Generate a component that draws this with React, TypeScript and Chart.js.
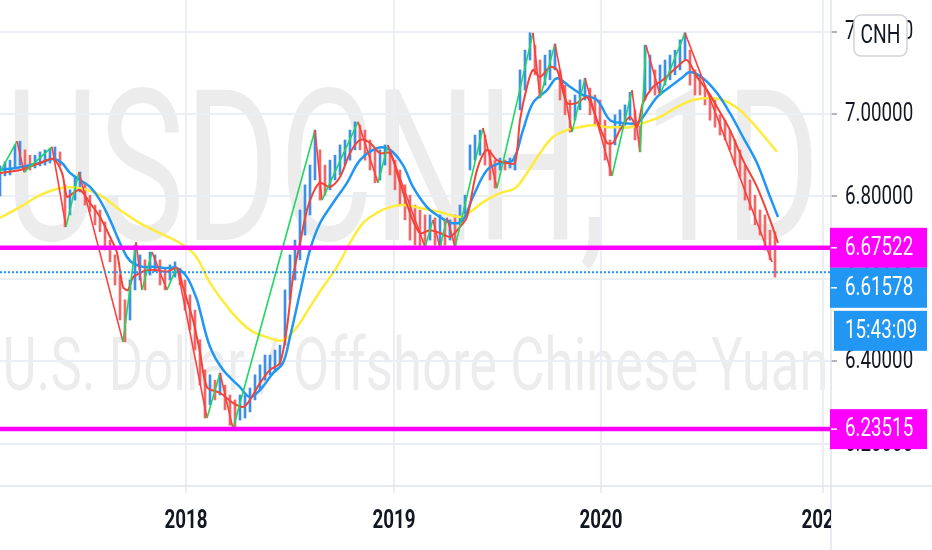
import React, { useEffect, useRef } from "react";
import { Chart, registerables } from "chart.js";

Chart.register(...registerables);

// ---------- data (x = weeks from the left edge of the view) ----------
const candleStepWeeks = 1.25;
const candleHigh = [
  6.874, 6.884, 6.888, 6.925, 6.934, 6.913, 6.9, 6.9, 6.908, 6.913,
  6.917, 6.92, 6.908, 6.828, 6.816, 6.845, 6.859, 6.833, 6.803, 6.779,
  6.767, 6.738, 6.694, 6.658, 6.609, 6.549, 6.597, 6.682, 6.658, 6.646,
  6.665, 6.658, 6.646, 6.626, 6.634, 6.641, 6.626, 6.597, 6.561, 6.524,
  6.452, 6.379, 6.367, 6.354, 6.371, 6.342, 6.318, 6.306, 6.318, 6.318,
  6.335, 6.367, 6.391, 6.415, 6.415, 6.427, 6.439, 6.573, 6.658, 6.694,
  6.767, 6.828, 6.876, 6.961, 6.913, 6.876, 6.888, 6.9, 6.925, 6.937,
  6.961, 6.981, 6.973, 6.961, 6.937, 6.913, 6.913, 6.925, 6.913, 6.888,
  6.864, 6.828, 6.803, 6.779, 6.767, 6.755, 6.755, 6.748, 6.755, 6.743,
  6.743, 6.755, 6.779, 6.803, 6.925, 6.949, 6.961, 6.949, 6.913, 6.888,
  6.893, 6.888, 6.893, 6.9, 7.107, 7.155, 7.197, 7.167, 7.131, 7.143,
  7.155, 7.17, 7.107, 7.07, 7.034, 7.046, 7.083, 7.087, 7.063, 7.046,
  7.034, 6.985, 6.937, 6.998, 7.01, 7.022, 7.053, 7.01, 6.973, 7.167,
  7.143, 7.107, 7.119, 7.131, 7.143, 7.155, 7.18, 7.197, 7.155, 7.107,
  7.095, 7.07, 7.046, 7.034, 6.998, 6.985, 6.961, 6.937, 6.913, 6.876,
  6.84, 6.803, 6.767, 6.755, 6.718, 6.714,
];
const candleLow = [
  6.801, 6.85, 6.852, 6.869, 6.876, 6.859, 6.864, 6.869, 6.874, 6.876,
  6.881, 6.884, 6.874, 6.726, 6.755, 6.791, 6.811, 6.779, 6.762, 6.731,
  6.714, 6.67, 6.641, 6.585, 6.5, 6.447, 6.5, 6.573, 6.597, 6.573,
  6.609, 6.617, 6.585, 6.573, 6.597, 6.604, 6.585, 6.524, 6.476, 6.427,
  6.342, 6.262, 6.294, 6.306, 6.318, 6.282, 6.245, 6.238, 6.257, 6.262,
  6.277, 6.306, 6.33, 6.354, 6.367, 6.374, 6.391, 6.439, 6.549, 6.597,
  6.646, 6.706, 6.755, 6.84, 6.791, 6.803, 6.816, 6.84, 6.852, 6.876,
  6.888, 6.913, 6.913, 6.888, 6.864, 6.833, 6.84, 6.876, 6.852, 6.816,
  6.779, 6.743, 6.694, 6.682, 6.677, 6.677, 6.694, 6.682, 6.677, 6.682,
  6.694, 6.677, 6.731, 6.755, 6.864, 6.888, 6.9, 6.876, 6.84, 6.82,
  6.864, 6.864, 6.869, 6.864, 7.01, 7.058, 7.131, 7.095, 7.039, 7.07,
  7.083, 7.107, 7.034, 6.998, 6.956, 6.985, 7.01, 7.034, 6.998, 6.973,
  6.961, 6.888, 6.85, 6.925, 6.961, 6.973, 6.985, 6.937, 6.908, 7.034,
  7.058, 7.046, 7.046, 7.07, 7.083, 7.095, 7.107, 7.131, 7.07, 7.046,
  7.046, 7.022, 6.985, 6.968, 6.949, 6.937, 6.913, 6.876, 6.847, 6.791,
  6.767, 6.731, 6.706, 6.67, 6.646, 6.604,
];

const emaFast: [number, number][] = [
  [0, 6.857], [5, 6.864], [10, 6.881], [13.25, 6.891], [15.5, 6.857], [16.75, 6.799],
  [18.25, 6.808], [20, 6.816], [22.5, 6.784], [25, 6.75], [27.5, 6.702], [29.25, 6.663],
  [30.75, 6.58], [32, 6.573], [33.25, 6.604], [35, 6.614], [36.75, 6.621], [39.25, 6.621],
  [41.75, 6.617], [44.25, 6.626], [45.75, 6.58], [48.25, 6.5], [50, 6.422], [51.75, 6.337],
  [55, 6.323], [58.25, 6.299], [60.75, 6.289], [62.5, 6.306], [65, 6.347], [67.5, 6.379],
  [70, 6.396], [71.75, 6.483], [73.25, 6.604], [75, 6.687], [76.75, 6.767], [78.25, 6.808],
  [80, 6.833], [82.5, 6.823], [85, 6.847], [87.5, 6.905], [90, 6.937], [92.5, 6.93],
  [95, 6.905], [97.5, 6.905], [100, 6.833], [102.5, 6.76], [105, 6.711], [107.5, 6.718],
  [110, 6.711], [112.5, 6.702], [115, 6.726], [116.75, 6.75], [119.25, 6.864], [121.75, 6.913],
  [124.25, 6.888], [126.75, 6.881], [128.75, 6.881], [130, 6.985], [131.75, 7.066], [133.25, 7.107],
  [135, 7.09], [137.5, 7.114], [139.25, 7.107], [141.75, 7.027], [144.25, 7.027], [146.75, 7.041],
  [149.25, 6.985], [151.75, 6.93], [153.25, 6.93], [155, 6.961], [157.5, 6.993], [159.25, 6.968],
  [160.75, 7.027], [163.25, 7.066], [165.75, 7.083], [169.25, 7.114], [171.75, 7.131], [174.25, 7.09],
  [176.75, 7.058], [179.25, 7.017], [182.5, 6.961], [185.75, 6.888], [189.25, 6.823], [192.5, 6.743],
  [194.5, 6.687],
];

const emaSlow: [number, number][] = [
  [0, 6.864], [5, 6.871], [10, 6.881], [13.25, 6.891], [15.5, 6.881], [17.5, 6.857],
  [20, 6.84], [22.5, 6.823], [25, 6.791], [27.5, 6.743], [30, 6.687], [31.75, 6.653],
  [33.25, 6.638], [35.75, 6.629], [38.25, 6.629], [41.75, 6.626], [44.25, 6.626], [46.75, 6.604],
  [49.25, 6.549], [50, 6.522], [52.5, 6.435], [55.75, 6.379], [60, 6.337], [62.5, 6.313],
  [65, 6.33], [68.25, 6.371], [70.75, 6.396], [72.5, 6.459], [75, 6.566], [77.5, 6.67],
  [80, 6.735], [83.25, 6.784], [86.75, 6.833], [90, 6.888], [94.25, 6.917], [97.5, 6.913],
  [100.75, 6.876], [103.25, 6.823], [106.75, 6.774], [110, 6.75], [113.25, 6.735], [115.75, 6.743],
  [118.25, 6.799], [121.75, 6.864], [125, 6.881], [128.25, 6.888], [130.75, 6.961], [133.25, 7.027],
  [136.75, 7.058], [139.25, 7.087], [142.5, 7.066], [145.75, 7.046], [149.25, 7.034], [152.5, 6.985],
  [155.75, 6.978], [159.25, 6.978], [160.75, 6.993], [164.25, 7.041], [167.5, 7.066], [170.75, 7.09],
  [172.5, 7.102], [175.75, 7.087], [179.25, 7.051], [182.5, 7.002], [185.75, 6.944], [189.25, 6.881],
  [192.5, 6.799], [194.5, 6.75],
];

const maLong: [number, number][] = [
  [0, 6.748], [5, 6.774], [10, 6.803], [15, 6.82], [20, 6.82], [25, 6.803], [30, 6.767],
  [35, 6.735], [40, 6.711], [45, 6.687], [48.25, 6.663], [50, 6.638], [52.5, 6.59],
  [57.5, 6.524], [62.5, 6.476], [67.5, 6.456], [70.75, 6.451], [74.25, 6.483], [77.5, 6.532],
  [80.75, 6.58], [84.25, 6.629], [87.5, 6.687], [90.75, 6.735], [94.25, 6.76], [97.5, 6.774],
  [100.75, 6.779], [105, 6.772], [110, 6.762], [115, 6.75], [117.5, 6.762], [120.75, 6.786],
  [125, 6.808], [128.75, 6.82], [131.75, 6.857], [135, 6.905], [138.25, 6.944], [141.75, 6.961],
  [145, 6.968], [148.25, 6.973], [151.75, 6.968], [155, 6.968], [157.5, 6.968], [160.75, 6.978],
  [165, 6.993], [169.25, 7.017], [173.25, 7.034], [177.5, 7.039], [180.75, 7.034], [184.25, 7.015],
  [187.5, 6.985], [190.75, 6.949], [194.25, 6.908],
];

const zigzag: [number, number][] = [
  [0, 6.859], [4.25, 6.934], [6, 6.859], [13, 6.92], [16.5, 6.726], [19.75, 6.859],
  [30.75, 6.447], [34, 6.689], [35.5, 6.573], [38, 6.665], [41.75, 6.573], [44.25, 6.629],
  [51.75, 6.262], [55, 6.371], [58.25, 6.236], [78.75, 6.961], [80.5, 6.791], [89.5, 6.981],
  [94.5, 6.833], [97, 6.925], [106.25, 6.677], [108.25, 6.743], [110, 6.675], [111.75, 6.748],
  [113.75, 6.677], [120.75, 6.966], [124.25, 6.82], [133.25, 7.197], [135, 7.039], [138.75, 7.17],
  [143, 6.956], [146.25, 7.087], [153, 6.85], [158, 7.058], [160, 6.908], [161.5, 7.167],
  [165, 7.046], [171.25, 7.197], [193, 6.641],
];

const yearTickWeeks = [46.5, 98.5, 150.25, 205.75];
const yearLabels = ["2018", "2019", "2020", "2021"];
const priceTicks = [6.2, 6.4, 6.6, 6.8, 7.0, 7.2];
const levelHigh = 6.67522;
const levelLow = 6.23515;
const lastPrice = 6.61578;
const countdownText = "15:43:09";
const symbolTitle = "USDCNH, 1D";
const symbolDesc = "U.S. Dollar / Offshore Chinese Yuan";
const currencyTag = "CNH";

// view range
const X_MIN = 0;
const X_MAX = 207.75;
const Y_MIN = 6.0971;
const Y_MAX = 7.2767;

// ---------- styles ----------
const GRID = "#eceef5";
const AXIS_LINE = "#e0e3eb";
const TEXT = "#131722";
const MAGENTA = "#ff00ff";
const BLUE = "#2196f3";
const CANDLE_UP = "#3f8fe6";
const CANDLE_DOWN = "#ee6a6a";
const FONT = "Roboto, 'Noto Sans', sans-serif";
const SQ = 0.75; // horizontal squeeze of text

function squeezed(ctx: CanvasRenderingContext2D, text: string, x: number, y: number, align: CanvasTextAlign, sx = SQ) {
  ctx.save();
  ctx.translate(x, y);
  ctx.scale(sx, 1);
  ctx.textAlign = align;
  ctx.fillText(text, 0, 0);
  ctx.restore();
}

function roundRect(ctx: CanvasRenderingContext2D, x: number, y: number, w: number, h: number, r: number) {
  ctx.beginPath();
  ctx.moveTo(x + r, y);
  ctx.lineTo(x + w - r, y);
  ctx.arcTo(x + w, y, x + w, y + r, r);
  ctx.lineTo(x + w, y + h - r);
  ctx.arcTo(x + w, y + h, x + w - r, y + h, r);
  ctx.lineTo(x + r, y + h);
  ctx.arcTo(x, y + h, x, y + h - r, r);
  ctx.lineTo(x, y + r);
  ctx.arcTo(x, y, x + r, y, r);
  ctx.closePath();
}

const overlayPlugin = {
  id: "tvOverlay",
  beforeDraw(chart: any) {
    const { ctx, chartArea } = chart;
    const cx = (chartArea.left + chartArea.right) / 2;
    ctx.save();
    ctx.fillStyle = "rgba(0,0,0,0.075)";
    ctx.textBaseline = "alphabetic";
    ctx.textAlign = "center";
    ctx.font = `211px ${FONT}`;
    ctx.fillText(symbolTitle, cx - 3, chartArea.top + 240, 815);
    ctx.font = `75px ${FONT}`;
    ctx.fillText(symbolDesc, cx, chartArea.top + 390, 826);
    ctx.restore();
  },
  afterDatasetsDraw(chart: any) {
    const { ctx, chartArea } = chart;
    const y = chart.scales.y;
    ctx.save();
    ctx.beginPath();
    ctx.rect(chartArea.left, chartArea.top, chartArea.right - chartArea.left, chartArea.bottom - chartArea.top);
    ctx.clip();
    // last price dotted line
    const yp = y.getPixelForValue(lastPrice);
    ctx.strokeStyle = BLUE;
    ctx.lineWidth = 2;
    ctx.setLineDash([2, 2]);
    ctx.beginPath();
    ctx.moveTo(chartArea.left, yp);
    ctx.lineTo(chartArea.right, yp);
    ctx.stroke();
    ctx.setLineDash([]);
    // horizontal levels
    ctx.strokeStyle = MAGENTA;
    ctx.lineWidth = 4.5;
    for (const lv of [levelHigh, levelLow]) {
      const py = y.getPixelForValue(lv);
      ctx.beginPath();
      ctx.moveTo(chartArea.left, py);
      ctx.lineTo(chartArea.right, py);
      ctx.stroke();
    }
    ctx.restore();
  },
  afterDraw(chart: any) {
    const { ctx, chartArea, width, height } = chart;
    const xs = chart.scales.x;
    const ys = chart.scales.y;
    ctx.save();
    // axis border lines
    ctx.strokeStyle = AXIS_LINE;
    ctx.lineWidth = 1.5;
    ctx.beginPath();
    ctx.moveTo(0, chartArea.bottom);
    ctx.lineTo(width, chartArea.bottom);
    ctx.moveTo(chartArea.right, 0);
    ctx.lineTo(chartArea.right, height);
    ctx.stroke();

    // price axis labels
    ctx.fillStyle = TEXT;
    ctx.textBaseline = "middle";
    ctx.font = `25px ${FONT}`;
    const labelX = chartArea.right + 14;
    for (const v of priceTicks) {
      squeezed(ctx, v.toFixed(5), labelX, ys.getPixelForValue(v) + 1, "left");
    }

    // time axis labels (clipped at the price axis)
    ctx.save();
    ctx.beginPath();
    ctx.rect(0, chartArea.bottom, chartArea.right, height - chartArea.bottom);
    ctx.clip();
    ctx.font = `bold 25px ${FONT}`;
    ctx.fillStyle = TEXT;
    yearTickWeeks.forEach((w, i) => {
      squeezed(ctx, yearLabels[i], xs.getPixelForValue(w), chartArea.bottom + 36, "center");
    });
    ctx.restore();

    // label boxes on the price axis
    const boxL = chartArea.right - 1;
    const boxR = width - 5;
    const boxH = 40;
    const drawBox = (top: number, color: string, text: string, left = boxL, dash = true) => {
      ctx.fillStyle = color;
      ctx.fillRect(left, top, boxR - left, boxH);
      const cy = top + boxH / 2;
      if (dash) {
        ctx.strokeStyle = "#ffffff";
        ctx.lineWidth = 1.5;
        ctx.beginPath();
        ctx.moveTo(chartArea.right, cy);
        ctx.lineTo(chartArea.right + 6, cy);
        ctx.stroke();
      }
      ctx.fillStyle = "#ffffff";
      ctx.font = `25px ${FONT}`;
      ctx.textBaseline = "middle";
      squeezed(ctx, text, chartArea.right + 14, cy + 1, "left");
      return top + boxH;
    };
    const hiTop = ys.getPixelForValue(levelHigh) - boxH / 2;
    const hiBottom = drawBox(hiTop, MAGENTA, levelHigh.toFixed(5));
    const lastTop = Math.max(ys.getPixelForValue(lastPrice) - boxH / 2, hiBottom);
    const lastBottom = drawBox(lastTop, BLUE, lastPrice.toFixed(5));
    drawBox(lastBottom + 3, BLUE, countdownText, chartArea.right + 3, false);
    drawBox(ys.getPixelForValue(levelLow) - boxH / 2, MAGENTA, levelLow.toFixed(5));

    // currency tag
    const tagL = chartArea.right + 23;
    const tagT = 15;
    const tagW = 53;
    const tagH = 41;
    roundRect(ctx, tagL, tagT, tagW, tagH, 7);
    ctx.fillStyle = "#ffffff";
    ctx.fill();
    ctx.strokeStyle = "#d1d4dc";
    ctx.lineWidth = 1.5;
    ctx.stroke();
    ctx.fillStyle = TEXT;
    ctx.font = `25px ${FONT}`;
    ctx.textBaseline = "middle";
    squeezed(ctx, currencyTag, tagL + tagW / 2, tagT + tagH / 2 + 1, "center", 0.77);
    ctx.restore();
  },
};

export default function App() {
  const ref = useRef<HTMLCanvasElement | null>(null);

  useEffect(() => {
    document.body.style.margin = "0";
    const mids = candleHigh.map((h, i) => (h + candleLow[i]) / 2);
    const candleColors = mids.map((m, i) => (i === 0 || m >= mids[i - 1] ? CANDLE_UP : CANDLE_DOWN));
    const toPts = (arr: [number, number][]) => arr.map(([x, y]) => ({ x, y }));

    const chart = new Chart(ref.current as HTMLCanvasElement, {
      type: "line",
      data: {
        datasets: [
          {
            type: "line",
            label: "ZigZag",
            data: toPts(zigzag),
            borderColor: "#1fd65f",
            borderWidth: 1.6,
            pointRadius: 0,
            tension: 0,
            order: 1,
            segment: {
              borderColor: (c: any) => (c.p1.parsed.y >= c.p0.parsed.y ? "#1fd65f" : "#ff3d3d"),
            },
          } as any,
          {
            type: "line",
            label: "EMA fast",
            data: toPts(emaFast),
            borderColor: "#f44336",
            borderWidth: 2,
            pointRadius: 0,
            tension: 0.3,
            order: 2,
          },
          {
            type: "line",
            label: "EMA slow",
            data: toPts(emaSlow),
            borderColor: "#2196f3",
            borderWidth: 2.5,
            pointRadius: 0,
            tension: 0.35,
            order: 3,
          },
          {
            type: "line",
            label: "MA long",
            data: toPts(maLong),
            borderColor: "#ffeb3b",
            borderWidth: 2.5,
            pointRadius: 0,
            tension: 0.4,
            order: 4,
          },
          {
            type: "bar",
            label: "USDCNH",
            data: candleHigh.map((h, i) => ({ x: i * candleStepWeeks, y: [candleLow[i], h] })),
            backgroundColor: candleColors,
            barThickness: 2,
            order: 5,
          } as any,
        ],
      },
      options: {
        animation: false,
        responsive: true,
        maintainAspectRatio: false,
        events: [],
        layout: { padding: 0 },
        plugins: { legend: { display: false }, tooltip: { enabled: false } },
        scales: {
          x: {
            type: "linear",
            min: X_MIN,
            max: X_MAX,
            offset: false,
            afterBuildTicks: (s: any) => {
              s.ticks = yearTickWeeks.map((v) => ({ value: v }));
            },
            afterFit: (s: any) => {
              s.height = 64;
            },
            ticks: { display: false },
            grid: { color: GRID, lineWidth: 2, tickLength: 7, drawTicks: true, tickColor: GRID, offset: false },
            border: { display: false },
          },
          y: {
            type: "linear",
            position: "right",
            min: Y_MIN,
            max: Y_MAX,
            afterBuildTicks: (s: any) => {
              s.ticks = priceTicks.map((v) => ({ value: v }));
            },
            afterFit: (s: any) => {
              s.width = 101;
            },
            ticks: { display: false },
            grid: { color: GRID, lineWidth: 2, tickLength: 6, drawTicks: true, tickColor: "#b2b5be" },
            border: { display: false },
          },
        },
      } as any,
      plugins: [overlayPlugin],
    });
    return () => chart.destroy();
  }, []);

  return (
    <div style={{ position: "absolute", left: 0, top: 0, width: 932, height: 550, background: "#ffffff" }}>
      <canvas ref={ref} />
    </div>
  );
}
